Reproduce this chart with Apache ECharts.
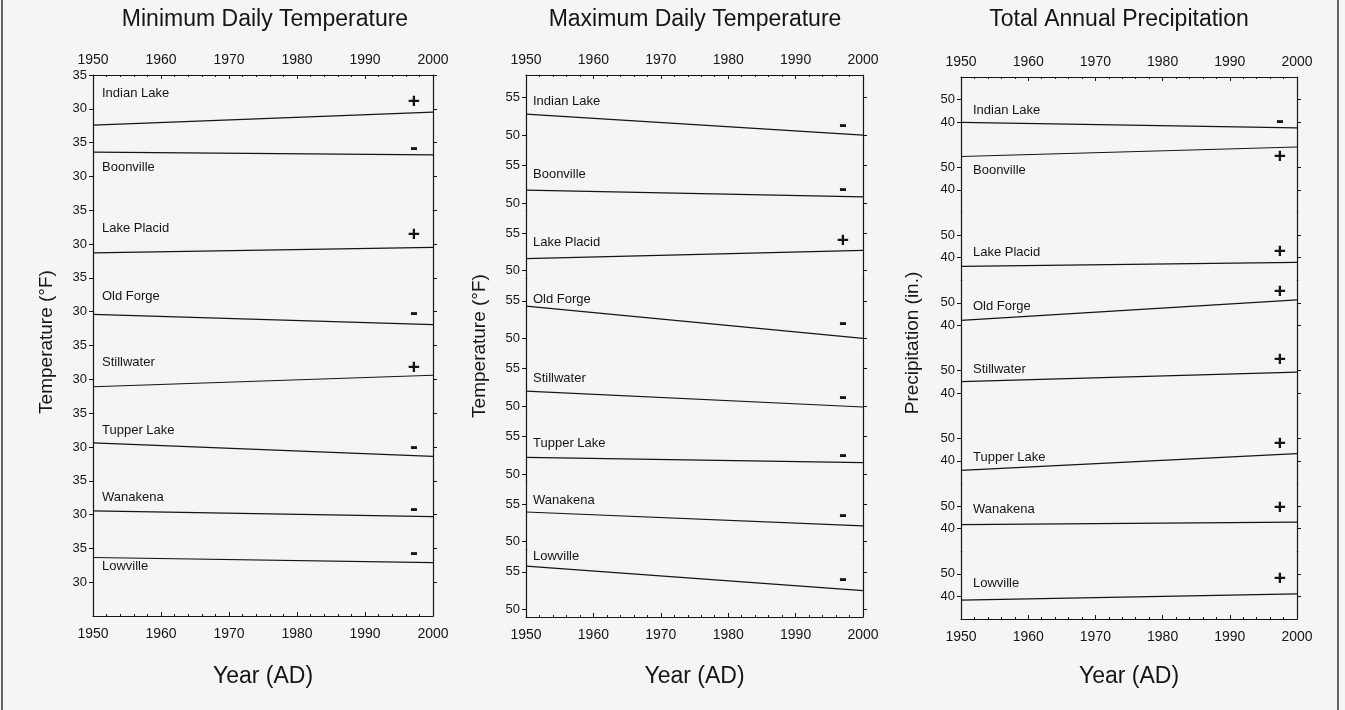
<!DOCTYPE html>
<html>
<head>
<meta charset="utf-8">
<script src="https://cdn.jsdelivr.net/npm/echarts@6/dist/echarts.min.js"></script>
<style>
  html, body { margin: 0; padding: 0; background: #f5f5f3; }
  #chart { width: 1345px; height: 710px; }
</style>
</head>
<body>
<div id="chart"></div>
<script>
// Stations, top to bottom in every panel
const stations = ['Indian Lake', 'Boonville', 'Lake Placid', 'Old Forge', 'Stillwater', 'Tupper Lake', 'Wanakena', 'Lowville'];
const yearTicks = [1950, 1960, 1970, 1980, 1990, 2000];
const trendYears = [1950, 2000];

// Linear trend values at 1950 and 2000 for each station
const minTemp1950 = [27.6, 33.6, 28.7, 29.6, 28.9, 30.6, 30.55, 33.65];
const minTemp2000 = [29.5, 33.2, 29.5, 28.1, 30.6, 28.6, 29.7, 32.9];
const maxTemp1950 = [52.8, 51.7, 51.6, 54.3, 52.0, 52.2, 53.95, 55.75];
const maxTemp2000 = [50.0, 50.8, 52.7, 50.0, 49.9, 51.5, 52.1, 52.5];
const precip1950 = [39.9, 54.8, 36.1, 42.2, 45.1, 35.8, 41.8, 38.4];
const precip2000 = [37.5, 59.0, 37.9, 51.3, 49.3, 43.2, 42.9, 41.1];

// Labelled values on each station's y scale
const minTempTicks = [30, 35];
const maxTempTicks = [50, 55];
const precipTicks = [40, 50];

const ink = '#151515';
const font = '"Liberation Sans", Arial, Helvetica, sans-serif';

// Panel layout (pixels) and per-station text offsets from each strip's top edge
const panels = [
  {
    title: 'Minimum Daily Temperature', axisName: 'Temperature (°F)',
    start: minTemp1950, end: minTemp2000, range: [25, 35], ticks: minTempTicks,
    box: { left: 93, right: 433, top: 75, bottom: 616 },
    titleX: 265, nameX: 47, nameY: 342,
    labelDx: 9, labelDy: [18, 25, 18, 19, 17, 17, 17, 18],
    signDx: -19, signDy: [27, 5.5, 25, 35, 23, 34, 28.5, 5]
  },
  {
    title: 'Maximum Daily Temperature', axisName: 'Temperature (°F)',
    start: maxTemp1950, end: maxTemp2000, range: [49, 58], ticks: maxTempTicks,
    box: { left: 526, right: 863, top: 75, bottom: 617 },
    titleX: 695, nameX: 480, nameY: 346,
    labelDx: 7, labelDy: [26, 31.5, 32, 21, 32, 29.5, 19, 7.5],
    signDx: -20, signDy: [50.5, 47, 31, 45, 51.5, 42, 33.5, 30]
  },
  {
    title: 'Total Annual Precipitation', axisName: 'Precipitation (in.)',
    start: precip1950, end: precip2000, range: [30, 60], ticks: precipTicks,
    box: { left: 961, right: 1297, top: 77, bottom: 619 },
    titleX: 1119, nameX: 913, nameY: 343,
    labelDx: 12, labelDy: [33, 25.5, 40, 26.5, 21.5, 42, 25.5, 32.5],
    signDx: -17, signDy: [44, 12.5, 40, 12, 12.5, 28.5, 25, 27.5]
  }
];

function textEl(x, y, text, size, opts) {
  opts = opts || {};
  return {
    type: 'text', x: x, y: y, rotation: opts.rotation || 0, silent: true,
    style: {
      text: text, fill: ink,
      font: (opts.weight || 'normal') + ' ' + size + 'px ' + font,
      align: opts.align || 'left', verticalAlign: 'middle',
      textAlign: opts.align || 'left', textVerticalAlign: 'middle'
    }
  };
}

const option = {
  backgroundColor: '#f5f5f3',
  animation: false,
  grid: [], xAxis: [], yAxis: [], series: [], graphic: []
};

panels.forEach(function (p) {
  const width = p.box.right - p.box.left;
  const stripH = (p.box.bottom - p.box.top) / stations.length;

  stations.forEach(function (name, k) {
    const gi = option.grid.length;
    const top = p.box.top + k * stripH;
    const first = k === 0;
    const last = k === stations.length - 1;

    option.grid.push({ left: p.box.left, top: top, width: width, height: stripH });

    option.xAxis.push({
      gridIndex: gi, type: 'value', min: yearTicks[0], max: yearTicks[yearTicks.length - 1], interval: 10,
      position: first ? 'top' : 'bottom',
      show: first || last,
      axisLine: { show: true, onZero: false, lineStyle: { color: ink, width: 1.2 } },
      axisTick: { show: true, inside: true, length: 4, lineStyle: { color: ink, width: 1 } },
      minorTick: { show: true, splitNumber: 5, length: 2, lineStyle: { color: ink, width: 1 } },
      splitLine: { show: false },
      axisLabel: {
        show: true, margin: first ? 8 : 11, fontSize: 14, color: ink, fontFamily: font,
        formatter: function (v) { return String(v); }
      }
    });

    const yBase = {
      gridIndex: gi, type: 'value', min: p.range[0], max: p.range[1],
      splitLine: { show: false },
      axisLine: { show: true, onZero: false, lineStyle: { color: ink, width: 1.2 } }
    };
    option.yAxis.push(Object.assign({}, yBase, {
      position: 'left',
      axisTick: { show: true, length: 4, customValues: p.ticks, lineStyle: { color: ink, width: 1 } },
      axisLabel: { show: true, customValues: p.ticks, margin: 6, fontSize: 13, color: ink, fontFamily: font }
    }));
    option.yAxis.push(Object.assign({}, yBase, {
      position: 'right',
      axisTick: { show: true, length: 4, customValues: p.ticks, lineStyle: { color: ink, width: 1 } },
      axisLabel: { show: false }
    }));

    const startVal = p.start[k];
    const endVal = p.end[k];
    option.series.push({
      type: 'line', xAxisIndex: gi, yAxisIndex: 2 * gi,
      data: [[trendYears[0], startVal], [trendYears[1], endVal]],
      symbol: 'none', silent: true,
      lineStyle: { color: ink, width: 1.2 }
    });

    // Station name and trend sign
    option.graphic.push(textEl(p.box.left + p.labelDx, top + p.labelDy[k], name, 13));
    const rising = endVal >= startVal;
    option.graphic.push(textEl(p.box.right + p.signDx, top + p.signDy[k],
      rising ? '+' : '-', rising ? 21 : 24, { align: 'center', weight: 'bold' }));
  });

  option.graphic.push(textEl(p.titleX, 20, p.title, 23, { align: 'center' }));
  option.graphic.push(textEl(p.nameX, p.nameY, p.axisName, 19, { align: 'center', rotation: Math.PI / 2 }));
  option.graphic.push(textEl((p.box.left + p.box.right) / 2, 677, 'Year (AD)', 23, { align: 'center' }));
});

// Outer frame edges
option.graphic.push({ type: 'line', silent: true, shape: { x1: 2, y1: 0, x2: 2, y2: 710 }, style: { stroke: '#333', lineWidth: 1.5 } });
option.graphic.push({ type: 'line', silent: true, shape: { x1: 1338, y1: 0, x2: 1338, y2: 710 }, style: { stroke: '#333', lineWidth: 1.5 } });

const chart = echarts.init(document.getElementById('chart'), null, { renderer: 'canvas' });
chart.setOption(option);
</script>
</body>
</html>
